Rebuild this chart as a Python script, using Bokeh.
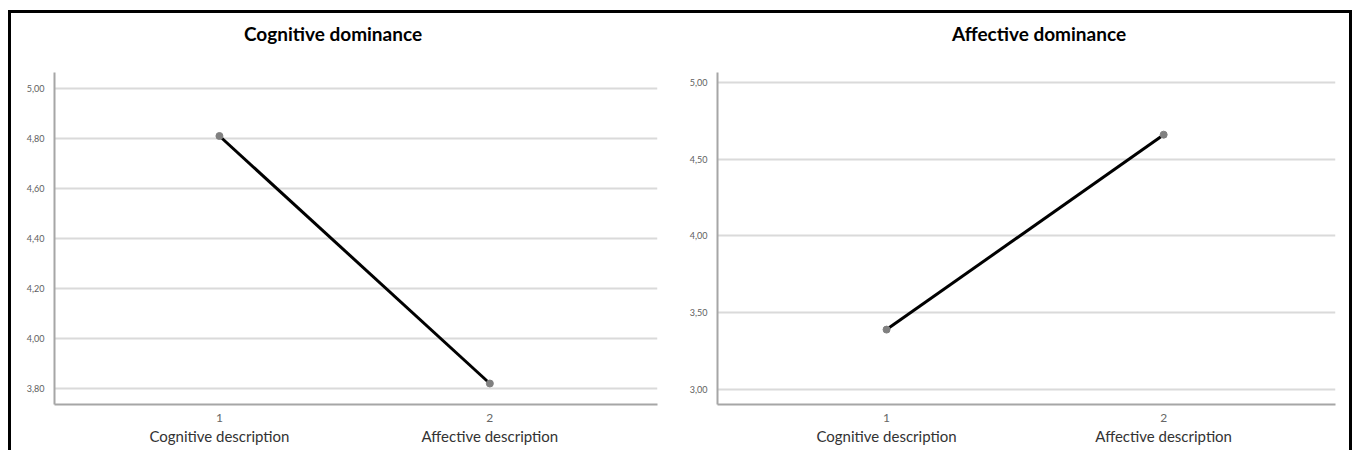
from bokeh.plotting import figure
from bokeh.layouts import row
from bokeh.models import FixedTicker, LinearAxis, Range1d
from bokeh.embed import file_html
from bokeh.resources import INLINE

# ---- data ----
conditions = [1, 2]
condition_labels = ["Cognitive description", "Affective description"]
cognitive_dominance_means = [4.81, 3.82]
affective_dominance_means = [3.39, 4.66]
cognitive_ticks = [3.80, 4.00, 4.20, 4.40, 4.60, 4.80, 5.00]
affective_ticks = [3.00, 3.50, 4.00, 4.50, 5.00]

FONT = "Lato"


def fmt(t):
    return f"{t:.2f}".replace(".", ",")


def panel(title, title_pos, means, ticks, ystart, yend, width, height, mb):
    p = figure(width=width, height=height, output_backend="svg", toolbar_location=None,
               x_range=Range1d(0.39, 2.62), y_range=Range1d(ystart, yend),
               min_border_left=mb[0], min_border_right=mb[1],
               min_border_top=mb[2], min_border_bottom=mb[3],
               x_axis_type=None, y_axis_location="left")
    p.outline_line_color = None
    p.background_fill_color = "white"
    p.border_fill_color = "white"

    # chart title, drawn as the single label of an invisible top axis
    ta = LinearAxis(ticker=FixedTicker(ticks=[title_pos]))
    ta.major_label_overrides = {title_pos: title}
    ta.major_label_text_font = FONT
    ta.major_label_text_font_size = "19px"
    ta.major_label_text_font_style = "bold"
    ta.major_label_text_color = "black"
    ta.axis_line_color = None
    ta.major_tick_line_color = None
    ta.minor_tick_line_color = None
    ta.major_label_standoff = 22
    p.add_layout(ta, "above")

    # y axis
    ya = p.yaxis[0]
    ya.ticker = FixedTicker(ticks=ticks)
    ya.major_label_overrides = {t: fmt(t) for t in ticks}
    ya.major_label_text_font = FONT
    ya.major_label_text_font_size = "9px"
    ya.major_label_text_color = "#606060"
    ya.axis_line_color = "#a6a6a6"
    ya.axis_line_width = 2
    ya.major_tick_line_color = None
    ya.minor_tick_line_color = None
    ya.major_label_standoff = 4

    # x axis: numeric codes
    xa = LinearAxis(ticker=FixedTicker(ticks=conditions))
    xa.major_label_overrides = {c: str(c) for c in conditions}
    xa.major_label_text_font = FONT
    xa.major_label_text_font_size = "12px"
    xa.major_label_text_color = "#666666"
    xa.axis_line_color = "#a6a6a6"
    xa.axis_line_width = 2
    xa.major_tick_line_color = None
    xa.minor_tick_line_color = None
    xa.major_label_standoff = 3
    p.add_layout(xa, "below")

    # x axis: condition names
    xb = LinearAxis(ticker=FixedTicker(ticks=conditions))
    xb.major_label_overrides = {c: lab for c, lab in zip(conditions, condition_labels)}
    xb.major_label_text_font = FONT
    xb.major_label_text_font_size = "15px"
    xb.major_label_text_color = "#333333"
    xb.axis_line_color = None
    xb.major_tick_line_color = None
    xb.minor_tick_line_color = None
    xb.major_label_standoff = -4
    p.add_layout(xb, "below")

    p.ygrid.ticker = FixedTicker(ticks=ticks)
    p.ygrid.grid_line_color = "#dadada"
    p.ygrid.grid_line_width = 2
    p.xgrid.grid_line_color = None

    p.line(conditions, means, line_color="black", line_width=3)
    p.scatter(conditions, means, size=7, fill_color="#808080", line_color="#808080")
    return p


p1 = panel("Cognitive dominance", 1.42, cognitive_dominance_means, cognitive_ticks,
           3.736, 5.064, 649, 437, (43, 3, 59, 46))
p2 = panel("Affective dominance", 1.55, affective_dominance_means, affective_ticks,
           2.902, 5.065, 689, 437, (57, 14, 59, 46))

layout = row(p1, p2, styles={"border-top": "3px solid black",
                             "border-left": "3px solid black",
                             "border-right": "3px solid black",
                             "margin-left": "8px",
                             "margin-top": "10px"})

open("out.html", "w").write(file_html(layout, INLINE))
